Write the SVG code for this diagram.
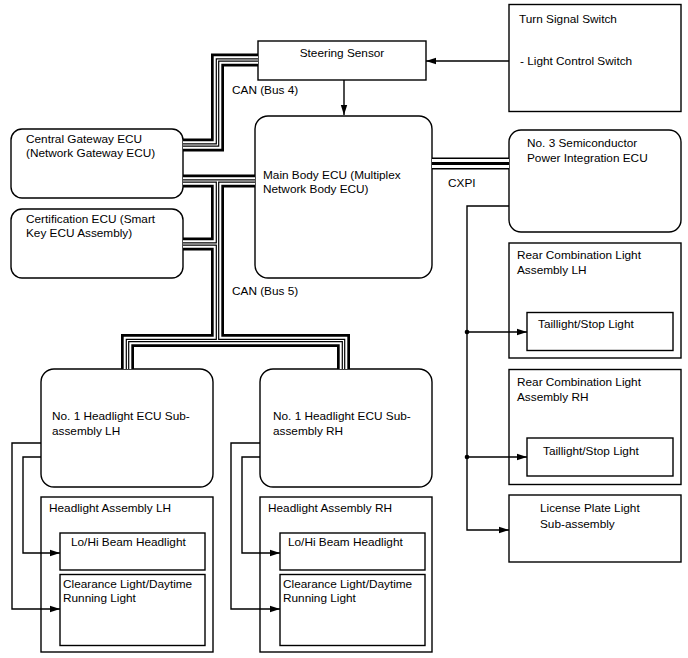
<svg xmlns="http://www.w3.org/2000/svg" xmlns:xlink="http://www.w3.org/1999/xlink" width="688" height="658" viewBox="0 0 688 658">
<style>
text{font-family:"Liberation Sans",Arial,sans-serif;font-size:11.8px;fill:#000}
.box{fill:#fff;stroke:#000;stroke-width:1.4}
.ln{fill:none;stroke:#000;stroke-width:1.4}
.k1{fill:none;stroke:#000;stroke-width:13}
.k2{fill:none;stroke:#fff;stroke-width:7.6}
.k3{fill:none;stroke:#000;stroke-width:3.6}
.k4{fill:none;stroke:#fff;stroke-width:1.2}
.c1{fill:none;stroke:#000;stroke-width:12}
.c2{fill:none;stroke:#fff;stroke-width:9}
.c3{fill:none;stroke:#000;stroke-width:3}
</style>
<defs>
<marker id="ar" markerWidth="10" markerHeight="8" refX="10" refY="4" orient="auto" markerUnits="userSpaceOnUse">
<path d="M0,0.8 L10,4 L0,7.2 Z" fill="#000"/>
</marker>
<path id="can" d="M258,60 H217.5 V145 H183 M183,181 H255 M217.5,181 V340.5 M183,244 H217.5 M127.5,369 V340.5 H343.5 V369"/>
<path id="cxpi" d="M432,163.5 H509"/>
</defs>

<g id="steering-sensor">
<rect class="box" x="258" y="41" width="168" height="39"/>
<text x="342" y="57" text-anchor="middle">Steering Sensor</text>
</g>

<g id="turn-signal-switch">
<rect class="box" x="509" y="4.5" width="172" height="107"/>
<text x="519" y="23">Turn Signal Switch</text>
<text x="520" y="65">- Light Control Switch</text>
</g>

<g id="central-gateway">
<rect class="box" x="11" y="129" width="172" height="69" rx="11"/>
<text x="26" y="143">Central Gateway ECU</text>
<text x="26" y="157">(Network Gateway ECU)</text>
</g>

<g id="certification-ecu">
<rect class="box" x="11" y="209" width="172" height="69" rx="11"/>
<text x="26" y="223">Certification ECU (Smart</text>
<text x="26" y="237">Key ECU Assembly)</text>
</g>

<g id="main-body-ecu">
<rect class="box" x="255" y="116" width="177" height="162" rx="13"/>
<text x="263" y="179">Main Body ECU (Multiplex</text>
<text x="263" y="193">Network Body ECU)</text>
</g>

<g id="semiconductor-ecu">
<rect class="box" x="509" y="130" width="172" height="102" rx="12"/>
<text x="527" y="147">No. 3 Semiconductor</text>
<text x="527" y="162">Power Integration ECU</text>
</g>

<g id="rear-combination-lh">
<rect class="box" x="509" y="243" width="172" height="115"/>
<text x="517" y="259">Rear Combination Light</text>
<text x="517" y="274">Assembly LH</text>
<rect class="box" x="527" y="312.5" width="146" height="38"/>
<text x="538" y="328">Taillight/Stop Light</text>
</g>

<g id="rear-combination-rh">
<rect class="box" x="509" y="369.5" width="172" height="115"/>
<text x="517" y="386">Rear Combination Light</text>
<text x="517" y="401">Assembly RH</text>
<rect class="box" x="527" y="438" width="146" height="38"/>
<text x="543" y="455">Taillight/Stop Light</text>
</g>

<g id="license-plate-light">
<rect class="box" x="509" y="495" width="172" height="67"/>
<text x="540" y="512">License Plate Light</text>
<text x="540" y="528">Sub-assembly</text>
</g>

<g id="headlight-ecu-lh">
<rect class="box" x="41" y="369" width="172" height="118" rx="13"/>
<text x="52" y="420">No. 1 Headlight ECU Sub-</text>
<text x="52" y="435">assembly LH</text>
</g>

<g id="headlight-ecu-rh">
<rect class="box" x="260" y="369" width="172" height="118" rx="13"/>
<text x="273" y="420">No. 1 Headlight ECU Sub-</text>
<text x="273" y="435">assembly RH</text>
</g>

<g id="headlight-assembly-lh">
<rect class="box" x="41" y="497" width="172" height="155"/>
<text x="49" y="512">Headlight Assembly LH</text>
<rect class="box" x="60" y="533" width="145" height="37"/>
<text x="71" y="546">Lo/Hi Beam Headlight</text>
<rect class="box" x="60" y="574.5" width="145" height="71"/>
<text x="63" y="588">Clearance Light/Daytime</text>
<text x="63" y="602">Running Light</text>
</g>

<g id="headlight-assembly-rh">
<rect class="box" x="260" y="497" width="172" height="155"/>
<text x="268" y="512">Headlight Assembly RH</text>
<rect class="box" x="280" y="533" width="145" height="37"/>
<text x="288" y="546">Lo/Hi Beam Headlight</text>
<rect class="box" x="280" y="574.5" width="145" height="71"/>
<text x="283" y="588">Clearance Light/Daytime</text>
<text x="283" y="602">Running Light</text>
</g>

<g id="connectors">
<use xlink:href="#can" class="k1"/>
<use xlink:href="#can" class="k2"/>
<use xlink:href="#can" class="k3"/>
<use xlink:href="#can" class="k4"/>
<use xlink:href="#cxpi" class="c1"/>
<use xlink:href="#cxpi" class="c2"/>
<use xlink:href="#cxpi" class="c3"/>
<path class="ln" d="M509,61 H426" marker-end="url(#ar)"/>
<path class="ln" d="M344,80 V115" marker-end="url(#ar)"/>
<path class="ln" d="M509,206 H467 V530 H509" marker-end="url(#ar)"/>
<path class="ln" d="M467,332 H527" marker-end="url(#ar)"/>
<path class="ln" d="M467,457 H527" marker-end="url(#ar)"/>
<circle cx="467" cy="332" r="2.3" fill="#000"/>
<circle cx="467" cy="457" r="2.3" fill="#000"/>
<path class="ln" d="M41,443 H12 V609 H60" marker-end="url(#ar)"/>
<path class="ln" d="M41,457 H23 V553 H60" marker-end="url(#ar)"/>
<path class="ln" d="M260,443 H231 V609 H280" marker-end="url(#ar)"/>
<path class="ln" d="M260,457 H242 V553 H280" marker-end="url(#ar)"/>
<text x="232" y="94">CAN (Bus 4)</text>
<text x="232" y="295">CAN (Bus 5)</text>
<text x="448" y="187">CXPI</text>
</g>
</svg>
